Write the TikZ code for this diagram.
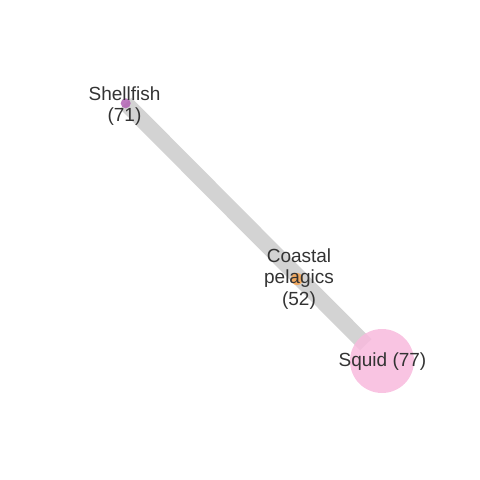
\documentclass[tikz,border=0pt]{standalone}
\usepackage{fontspec}
\setmainfont{Liberation Sans}
\usetikzlibrary{backgrounds}
\definecolor{linkgray}{RGB}{211,211,211}
\definecolor{labelgray}{RGB}{51,51,51}
\definecolor{shellpurple}{RGB}{178,98,180}
\definecolor{coastorange}{RGB}{246,162,78}
\definecolor{squidpink}{RGB}{248,186,221}

\begin{document}
\begin{tikzpicture}[x=1pt,y=-1pt,
    species/.style={circle,inner sep=0pt,opacity=.85},
    lbl/.style={align=center,text=labelgray,font=\fontsize{19}{21.6}\selectfont},
    link/.style={line width=16pt,draw=linkgray}]
        \useasboundingbox (0,0) rectangle (480,480);

        \foreach \name/\x/\y/\d/\col in {shell/125.7/103.3/10/shellpurple,coast/297/279/12/coastorange,squid/382/361/64/squidpink} {
          \node[species,fill=\col,minimum size=\d pt] (\name) at (\x,\y) {};
        }

        \begin{scope}[on background layer]
          \draw[link,shorten >=23pt] (shell.center) -- (squid.center);
        \end{scope}

        \node[lbl] (shelllbl) at (124.5,106.2) {Shellfish\\(71)};
        \node[lbl] (coastlbl) at (299,278.8) {Coastal\\pelagics\\(52)};
        \node[lbl] (squidlbl) at (382.5,362) {Squid (77)};
      \end{tikzpicture}
\end{document}
